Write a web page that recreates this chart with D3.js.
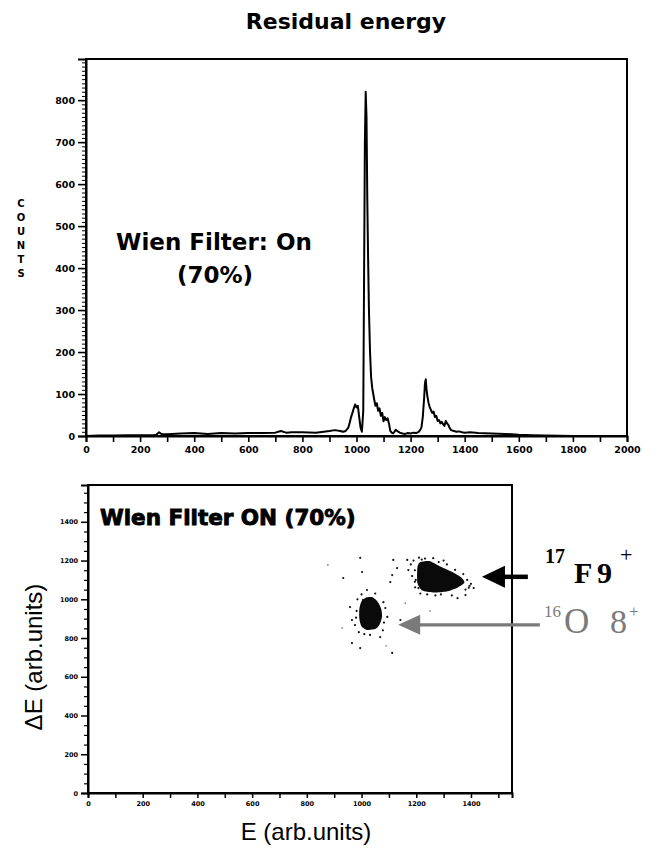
<!DOCTYPE html>
<html><head><meta charset="utf-8">
<script src="https://cdn.jsdelivr.net/npm/d3@7"></script>
<style>
html,body{margin:0;padding:0;background:#fff;}
svg{display:block;}
</style></head>
<body>
<svg id="chart" width="656" height="852"></svg>
<script>
// ---------- Top: residual energy spectrum ----------
const specEnergy = [0,50,100,150,200,250,260,270,280,300,350,400,450,500,550,600,650,700,720,740,760,800,850,900,920,940,950,960,970,975,980,985,990,995,1000,1005,1010,1015,1020,1025,1028,1031,1034,1037,1040,1043,1046,1050,1054,1058,1062,1066,1070,1075,1080,1085,1090,1095,1100,1105,1110,1115,1120,1125,1130,1135,1140,1145,1150,1160,1170,1180,1190,1200,1210,1220,1230,1235,1240,1245,1250,1253,1256,1259,1262,1266,1270,1275,1280,1285,1290,1295,1300,1305,1310,1315,1320,1325,1330,1335,1340,1345,1350,1360,1370,1380,1390,1400,1420,1450,1500,1550,1600,1650,1700,1800,1900,2000];
const specCounts = [0,1,1,2,2,2,3,9,4,4,6,7,5,7,6,7,7,8,12,8,9,9,8,12,14,12,10,12,20,32,45,55,66,75,68,72,45,20,10,60,380,700,820,760,560,420,300,200,140,115,100,85,72,78,60,66,48,55,35,45,38,42,30,12,8,6,10,15,12,8,6,5,7,6,8,7,10,14,20,45,90,125,135,110,95,80,70,62,55,58,45,48,36,38,30,34,28,24,36,30,26,18,14,12,10,11,9,8,9,7,6,5,3,2,1,0,0,0];
const topXTickLabels = [0,200,400,600,800,1000,1200,1400,1600,1800,2000];
const topYTickLabels = [0,100,200,300,400,500,600,700,800];

// ---------- Bottom: dE-E scatter ----------
// dense cores (outline of the saturated region), [E, dE]
const coreF17 = [[1205,1170],[1215,1192],[1250,1197],[1290,1168],[1330,1142],[1365,1112],[1376,1085],[1350,1060],[1310,1040],[1262,1035],[1222,1045],[1205,1080],[1203,1130]];
const coreO16 = [[1000,990],[1020,1010],[1040,1010],[1060,985],[1072,950],[1075,910],[1066,870],[1050,846],[1020,842],[1000,860],[992,900],[992,950]];
// individual events around the clusters, [E, dE]
const eventsF17 = [[1116,1203],[1130,1161],[1167,1203],[1171,1151],[1112,1125],[1105,1089],[1208,1058],[1180,1180],[1185,1120],[1190,1200],[1195,1150],[1198,1100],[1210,1215],[1232,1210],[1262,1212],[1282,1192],[1312,1180],[1342,1152],[1372,1130],[1386,1100],[1400,1080],[1392,1060],[1410,1058],[1380,1022],[1351,1006],[1330,1020],[1290,1025],[1270,1020],[1240,1025],[1215,1030],[1196,1062],[1195,1090],[1250,1182],[1362,1092],[1300,1200],[1220,1205],[1380,1050],[1395,1070]];
const eventsO16 = [[958,960],[965,893],[976,867],[1087,955],[1094,909],[1142,893],[965,774],[1031,816],[1068,805],[1020,1048],[1005,996],[995,748],[1112,723],[933,1110],[995,1214],[1002,1141],[985,1000],[982,940],[980,905],[1080,985],[1082,880],[1078,840],[990,830],[1010,820],[1050,1030],[1000,1025]];
const sparseEvents = [[929,852],[877,1177],[1090,760],[1160,980],[1250,940]];
const botXTickLabels = [0,200,400,600,800,1000,1200,1400];
const botYTickLabels = [0,200,400,600,800,1000,1200,1400];

const svg = d3.select("#chart");
svg.append("rect").attr("width",656).attr("height",852).attr("fill","#fff");

// ---------- title ----------
svg.append("text").attr("x",346).attr("y",29).attr("text-anchor","middle")
  .attr("font-family","DejaVu Sans").attr("font-weight","bold").attr("font-size",22)
  .text("Residual energy");

// ---------- top chart ----------
const xT = d3.scaleLinear().domain([0,2000]).range([86,627]);
const yT = d3.scaleLinear().domain([0,898]).range([436,59]);

const gT = svg.append("g");
gT.append("rect").attr("x",xT(0)).attr("y",yT(898)).attr("width",xT(2000)-xT(0)).attr("height",yT(0)-yT(898))
  .attr("fill","none").attr("stroke","#000").attr("stroke-width",2);

const tickFont = g => g.selectAll("text").attr("font-family","DejaVu Sans").attr("font-weight","bold").attr("fill","#000");

// x axis top
const axXT = gT.append("g").attr("transform",`translate(0,${yT(0)})`)
  .call(d3.axisBottom(xT).tickValues(topXTickLabels).tickSize(6).tickPadding(4).tickFormat(d3.format("d")));
axXT.select(".domain").attr("stroke-width",2);
axXT.selectAll(".tick line").attr("stroke-width",1.6);
axXT.call(tickFont).selectAll("text").attr("font-size",9.5);
gT.append("g").attr("transform",`translate(0,${yT(0)})`)
  .call(d3.axisBottom(xT).tickValues(d3.range(100,2000,200)).tickSize(6).tickFormat(""))
  .call(g=>{g.select(".domain").remove(); g.selectAll(".tick line").attr("stroke-width",1.6);});

// y axis top
const axYT = gT.append("g").attr("transform",`translate(${xT(0)},0)`)
  .call(d3.axisLeft(yT).tickValues(topYTickLabels).tickSize(8).tickPadding(3).tickFormat(d3.format("d")));
axYT.select(".domain").attr("stroke-width",2);
axYT.selectAll(".tick line").attr("stroke-width",1.6);
axYT.call(tickFont).selectAll("text").attr("font-size",9.5);
gT.append("g").attr("transform",`translate(${xT(0)},0)`)
  .call(d3.axisLeft(yT).tickValues(d3.range(10,898,10)).tickSize(4).tickFormat(""))
  .call(g=>{g.select(".domain").remove(); g.selectAll(".tick line").attr("stroke-width",1);});

// spectrum line
const specData = specEnergy.map((e,i)=>[e,specCounts[i]]);
gT.append("path").datum(specData)
  .attr("d", d3.line().x(d=>xT(d[0])).y(d=>yT(d[1])))
  .attr("fill","none").attr("stroke","#000").attr("stroke-width",2).attr("stroke-linejoin","round");

// COUNTS vertical label
const countsLetters = ["C","O","U","N","T","S"];
svg.append("g").selectAll("text").data(countsLetters).join("text")
  .attr("x",21).attr("y",(d,i)=>207+i*14).attr("text-anchor","middle")
  .attr("font-family","DejaVu Sans").attr("font-weight","bold").attr("font-size",10)
  .text(d=>d);

// Wien filter label (top)
const wt = svg.append("text").attr("text-anchor","middle")
  .attr("font-family","DejaVu Sans").attr("font-weight","bold").attr("font-size",23);
wt.append("tspan").attr("x",214).attr("y",250).text("Wien Filter: On");
wt.append("tspan").attr("x",215).attr("y",283).text("(70%)");

// ---------- bottom chart ----------
const xB = d3.scaleLinear().domain([0,1550]).range([88,512]);
const yB = d3.scaleLinear().domain([0,1590]).range([793,485]);
const gB = svg.append("g");
gB.append("rect").attr("x",xB(0)).attr("y",yB(1590)).attr("width",xB(1550)-xB(0)).attr("height",yB(0)-yB(1590))
  .attr("fill","none").attr("stroke","#000").attr("stroke-width",2);

const axXB = gB.append("g").attr("transform",`translate(0,${yB(0)})`)
  .call(d3.axisBottom(xB).tickValues(botXTickLabels).tickSize(5).tickPadding(3).tickFormat(d3.format("d")));
axXB.select(".domain").attr("stroke-width",2);
axXB.selectAll(".tick line").attr("stroke-width",1.5);
axXB.call(tickFont).selectAll("text").attr("font-size",6.5);
gB.append("g").attr("transform",`translate(0,${yB(0)})`)
  .call(d3.axisBottom(xB).tickValues(d3.range(100,1550,200)).tickSize(5).tickFormat(""))
  .call(g=>{g.select(".domain").remove(); g.selectAll(".tick line").attr("stroke-width",1.5);});

const axYB = gB.append("g").attr("transform",`translate(${xB(0)},0)`)
  .call(d3.axisLeft(yB).tickValues(botYTickLabels).tickSize(7).tickPadding(3).tickFormat(d3.format("d")));
axYB.select(".domain").attr("stroke-width",2);
axYB.selectAll(".tick line").attr("stroke-width",1.5);
axYB.call(tickFont).selectAll("text").attr("font-size",6.5);
gB.append("g").attr("transform",`translate(${xB(0)},0)`)
  .call(d3.axisLeft(yB).tickValues(d3.range(50,1590,50).filter(v=>v%200!==0)).tickSize(4).tickFormat(""))
  .call(g=>{g.select(".domain").remove(); g.selectAll(".tick line").attr("stroke-width",1.2);});

// cluster cores
const coreLine = d3.line().x(d=>xB(d[0])).y(d=>yB(d[1])).curve(d3.curveCardinalClosed.tension(0.3));
gB.append("path").attr("d",coreLine(coreF17)).attr("fill","#0a0a0a");
gB.append("path").attr("d",coreLine(coreO16)).attr("fill","#0a0a0a");
// events
gB.append("g").selectAll("circle").data(eventsF17.concat(eventsO16)).join("circle")
  .attr("cx",d=>xB(d[0])).attr("cy",d=>yB(d[1])).attr("r",1.1).attr("fill","#111");
gB.append("g").selectAll("circle").data(sparseEvents).join("circle")
  .attr("cx",d=>xB(d[0])).attr("cy",d=>yB(d[1])).attr("r",0.9).attr("fill","#888");

// Wien filter label (bottom)
svg.append("text").attr("x",100).attr("y",525)
  .attr("font-family","DejaVu Sans").attr("font-weight","bold").attr("font-size",21.5)
  .attr("stroke","#000").attr("stroke-width",0.9)
  .text("Wien Filter ON (70%)");

// arrows
const blackArrow = {from:[1608,1116], to:[1440,1116]};
const grayArrow = {from:[1652,868], to:[1134,868]};
function drawArrow(a, color, shaftW, headLen, headHalf){
  const x1 = xB(a.from[0]), x2 = xB(a.to[0]), y = yB(a.to[1]);
  svg.append("line").attr("x1",x1).attr("x2",x2+headLen-1).attr("y1",y).attr("y2",y)
    .attr("stroke",color).attr("stroke-width",shaftW);
  svg.append("path").attr("d",`M${x2},${y} L${x2+headLen},${y-headHalf} L${x2+headLen},${y+headHalf} Z`).attr("fill",color);
}
drawArrow(blackArrow,"#000",4.5,23,11);
drawArrow(grayArrow,"#7a7a7a",3.2,22,10);

// ion labels
const f17 = svg.append("text").attr("font-family","Liberation Serif").attr("fill","#000");
f17.append("tspan").attr("x",545).attr("y",563).attr("font-size",20).attr("font-weight","bold").text("17");
f17.append("tspan").attr("x",574).attr("y",583).attr("font-size",30).attr("font-weight","bold").text("F");
f17.append("tspan").attr("x",597).attr("y",583).attr("font-size",30).attr("font-weight","bold").text("9");
f17.append("tspan").attr("x",620).attr("y",562).attr("font-size",22).text("+");

const o16 = svg.append("text").attr("font-family","Liberation Serif").attr("fill","#7a7a7a");
o16.append("tspan").attr("x",544).attr("y",617).attr("font-size",17).text("16");
o16.append("tspan").attr("x",564).attr("y",633).attr("font-size",35).text("O");
o16.append("tspan").attr("x",610).attr("y",633).attr("font-size",34).text("8");
o16.append("tspan").attr("x",629).attr("y",617).attr("font-size",17).text("+");

// axis titles (bottom)
svg.append("text").attr("transform","translate(42,657) rotate(-90)").attr("text-anchor","middle")
  .attr("font-family","Liberation Sans").attr("font-size",24).text("ΔE (arb.units)");
svg.append("text").attr("x",306).attr("y",840).attr("text-anchor","middle")
  .attr("font-family","Liberation Sans").attr("font-size",24).text("E (arb.units)");
</script>
</body></html>
